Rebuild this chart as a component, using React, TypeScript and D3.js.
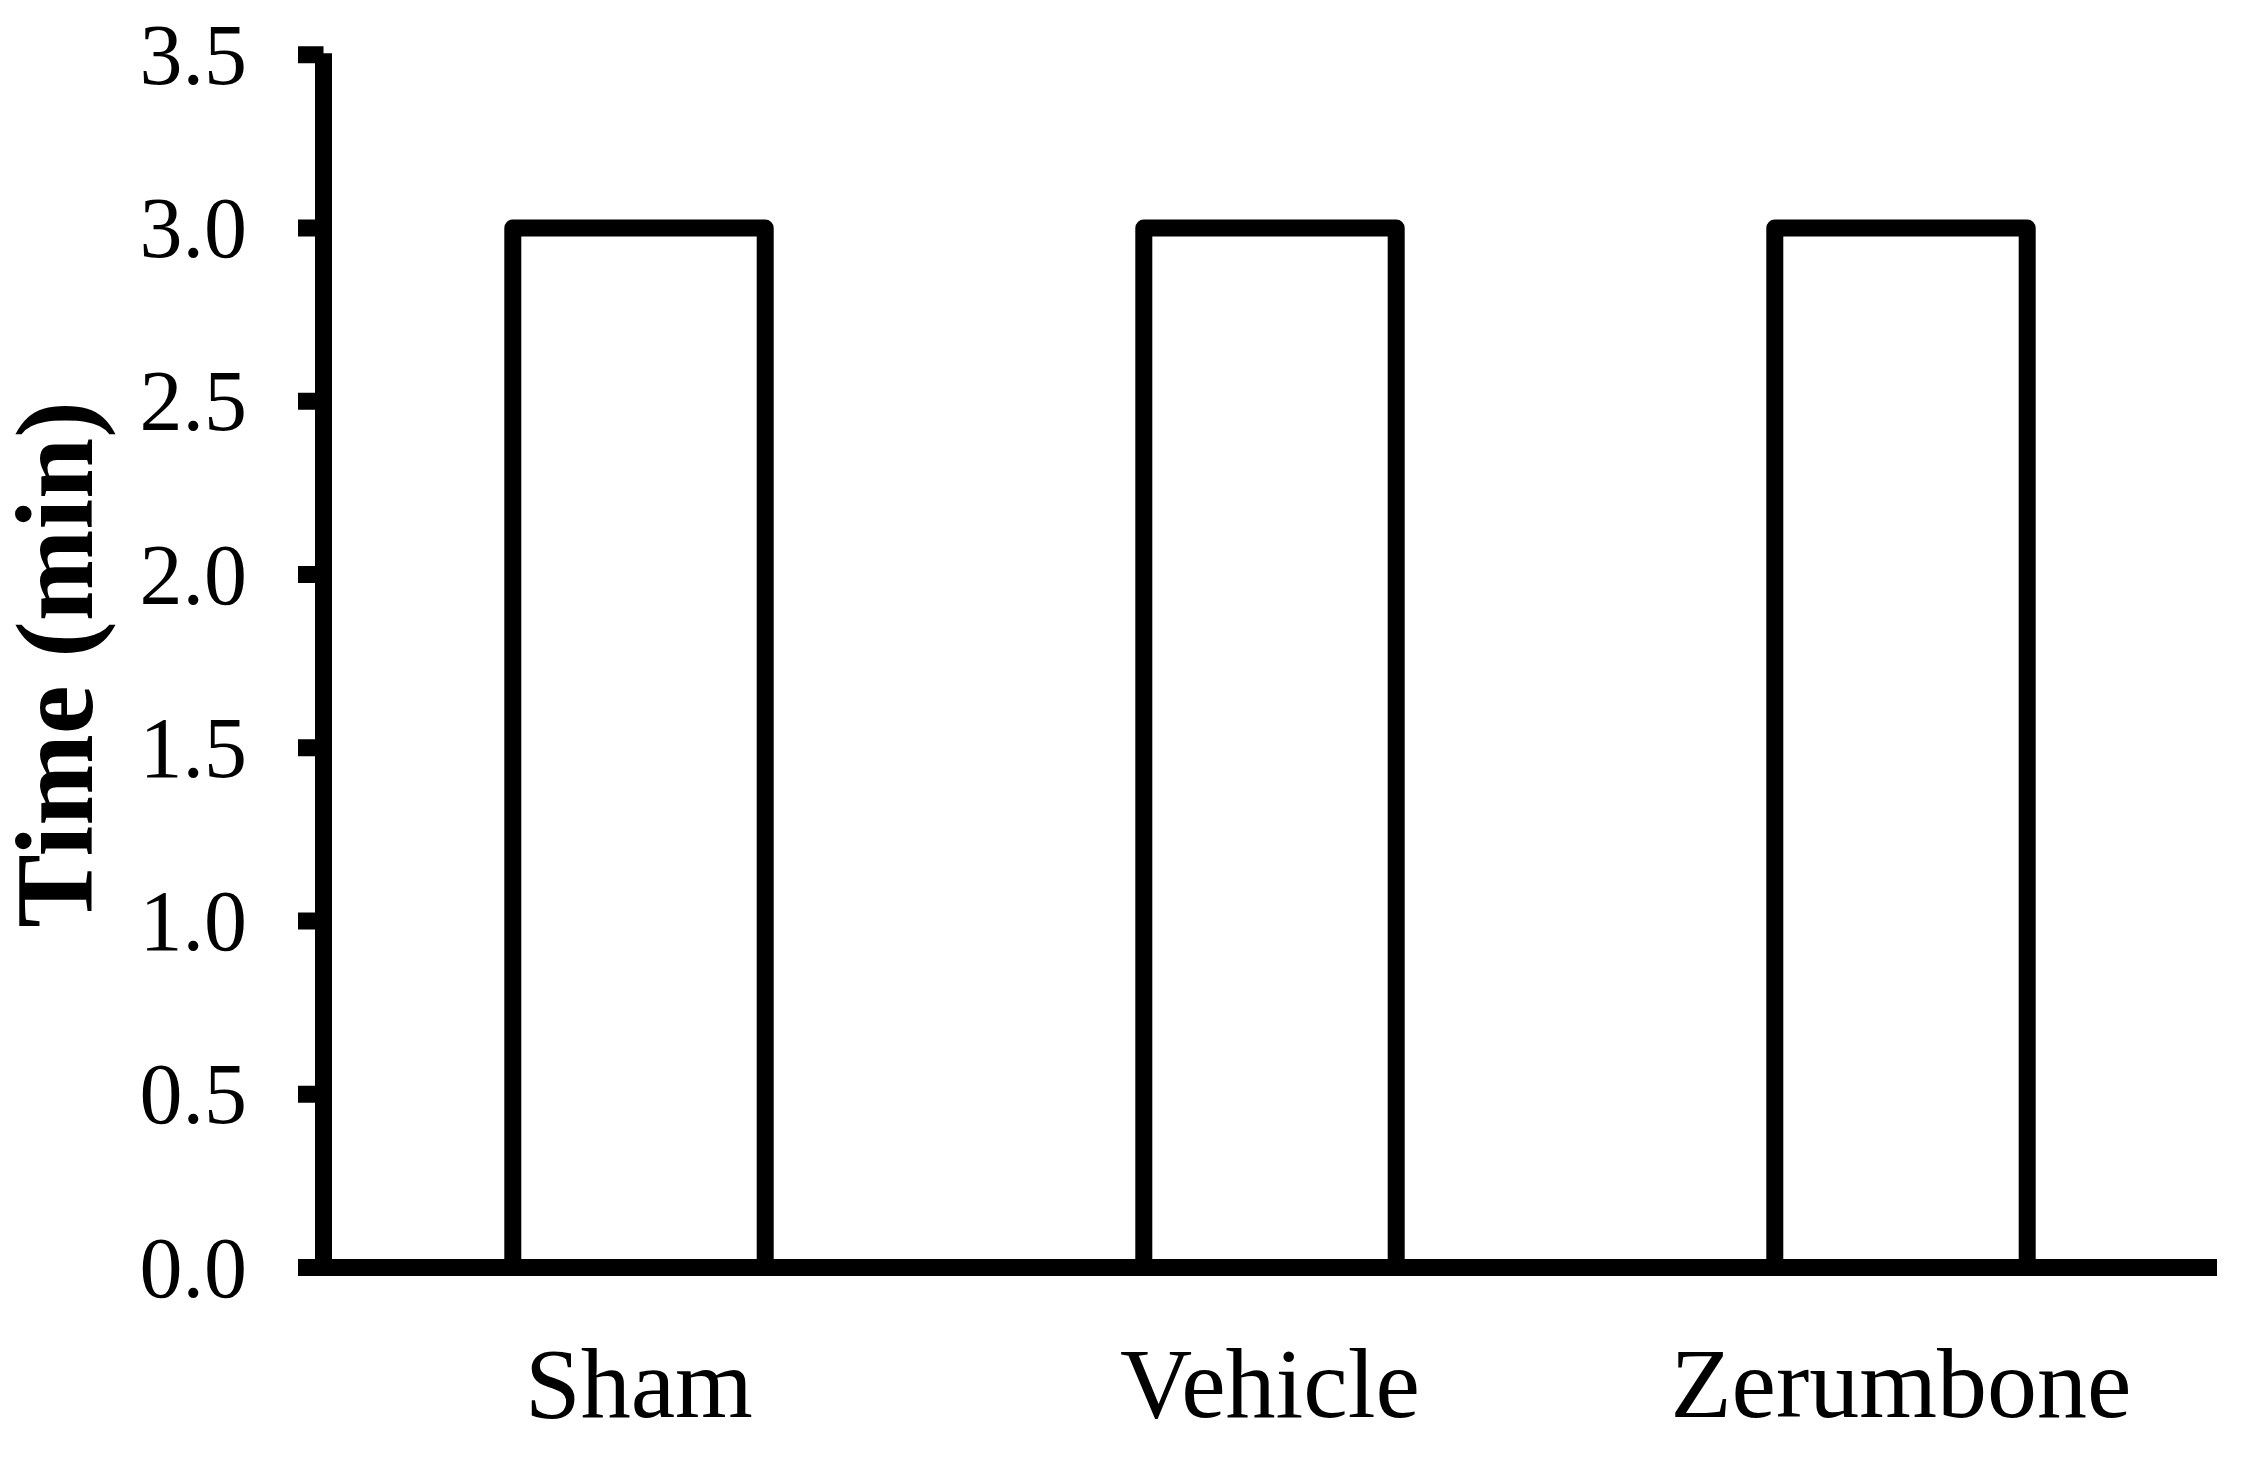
import React from "react";
import * as d3 from "d3";

const categories = ["Sham", "Vehicle", "Zerumbone"];
const values = [3.0, 3.0, 3.0];
const yTicks = [0, 0.5, 1.0, 1.5, 2.0, 2.5, 3.0, 3.5];
const yLabel = "Time (min)";

const W = 2254;
const H = 1457;
const FONT = "'Liberation Serif', 'Times New Roman', Times, serif";

export default function App() {
  const x0 = 323.5;
  const x1 = 2216.5;
  const yBottom = 1267.5;
  const yTop = 54.75;
  const sw = 17;

  const x = d3.scaleBand<string>().domain(categories).range([x0, x1]).paddingInner(0.6).paddingOuter(0.3);
  const y = d3.scaleLinear().domain([0, 3.5]).range([yBottom, yTop]);

  return (
    <svg
      width={W}
      height={H}
      viewBox={`0 0 ${W} ${H}`}
      style={{ position: "absolute", left: 0, top: 0, background: "#fff" }}
    >
      <rect x={0} y={0} width={W} height={H} fill="#fff" />
      {/* bars */}
      {categories.map((c, i) => (
        <rect
          key={c}
          x={x(c)!}
          y={y(values[i])}
          width={x.bandwidth()}
          height={y(0) - y(values[i])}
          fill="#fff"
          stroke="#000"
          strokeWidth={sw}
          strokeLinejoin="round"
        />
      ))}
      {/* y axis */}
      <line x1={x0} x2={x0} y1={y(3.5) - 1.5} y2={yBottom} stroke="#000" strokeWidth={sw} />
      {yTicks.map((t) => (
        <g key={t}>
          <line x1={298} x2={x0} y1={y(t)} y2={y(t)} stroke="#000" strokeWidth={sw} />
          <text
            x={247}
            y={y(t)}
            dy="0.34em"
            textAnchor="end"
            fontFamily={FONT}
            fontSize={86}
            fill="#000"
          >
            {d3.format(".1f")(t)}
          </text>
        </g>
      ))}
      {/* x axis */}
      <line x1={298} x2={2217} y1={yBottom} y2={yBottom} stroke="#000" strokeWidth={sw} />
      {categories.map((c) => (
        <text
          key={c}
          x={x(c)! + x.bandwidth() / 2}
          y={1417}
          textAnchor="middle"
          fontFamily={FONT}
          fontSize={100}
          fill="#000"
        >
          {c}
        </text>
      ))}
      {/* y label */}
      <text
        transform={`translate(92, 664.5) rotate(-90)`}
        textAnchor="middle"
        fontFamily={FONT}
        fontWeight="bold"
        fontSize={110}
        fill="#000"
      >
        {yLabel}
      </text>
    </svg>
  );
}
